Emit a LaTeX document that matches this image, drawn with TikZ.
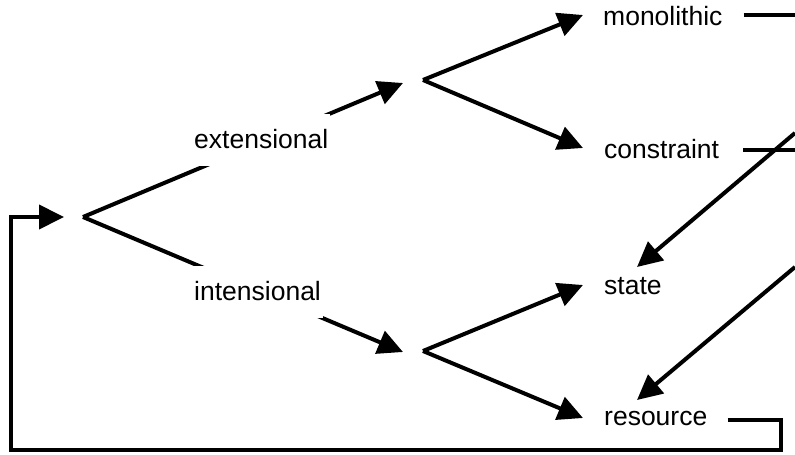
\documentclass[tikz,border=0pt]{standalone}
\usepackage{fontspec}
\setmainfont{Liberation Sans}
\usetikzlibrary{arrows.meta,backgrounds}
\begin{document}
\begin{tikzpicture}[x=1pt,y=-1pt,
  conn/.style={line width=4pt},
  arr/.style={conn,-{Triangle[length=25pt,width=24pt]}},
  lbl/.style={anchor=base west,inner sep=0pt,font=\fontsize{26.5}{30}\selectfont},
  gaplbl/.style={lbl,fill=white,inner xsep=2pt,inner ysep=0pt,text height=34pt,text depth=18pt}]
\useasboundingbox (0,0) rectangle (795,455);
% labels
\node[gaplbl] (ext) at (192,148) {extensional};
\node[gaplbl] (int) at (192,300) {intensional};
\node[lbl] (mono) at (603,25) {monolithic};
\node[lbl] (cons) at (604,158) {constraint};
\node[lbl] (state) at (604,294) {state};
\node[lbl] (res) at (604,425) {resource};
% branch points and free ends
\coordinate (b0) at (83,217);
\coordinate (t0) at (64,217);
\coordinate (b1) at (423,80);
\coordinate (t1) at (403,83);
\coordinate (b2) at (423,351);
\coordinate (t2) at (403,352);
\coordinate (mR) at (795,14.5);
\coordinate (cR) at (795,149.5);
\coordinate (rR) at (781,419.5);
\coordinate (bl) at (11,450);
\coordinate (d1) at (795,133);
\coordinate (d2) at (795,267);
\begin{scope}[on background layer]
\draw[arr] (b0) -- (t1);
\draw[arr] (b0) -- (t2);
\end{scope}
\draw[arr] (b1) -- ([shift={(-20,-10)}]mono.base west);
\draw[arr] (b1) -- ([shift={(-21,-10)}]cons.base west);
\draw[arr] (b2) -- ([shift={(-21,-9)}]state.base west);
\draw[arr] (b2) -- ([shift={(-21,-7)}]res.base west);
\draw[conn] ([xshift=21pt]mono.east |- mR) -- (mR);
\draw[conn] ([xshift=24pt]cons.east |- cR) -- (cR);
\draw[arr] (d1) -- ([shift={(33,-27)}]state.base west);
\draw[arr] (d2) -- ([shift={(33,-25)}]res.base west);
\draw[arr] ([xshift=20pt]res.east |- rR) -- (rR) |- (bl) |- (t0);
\end{tikzpicture}
\end{document}
